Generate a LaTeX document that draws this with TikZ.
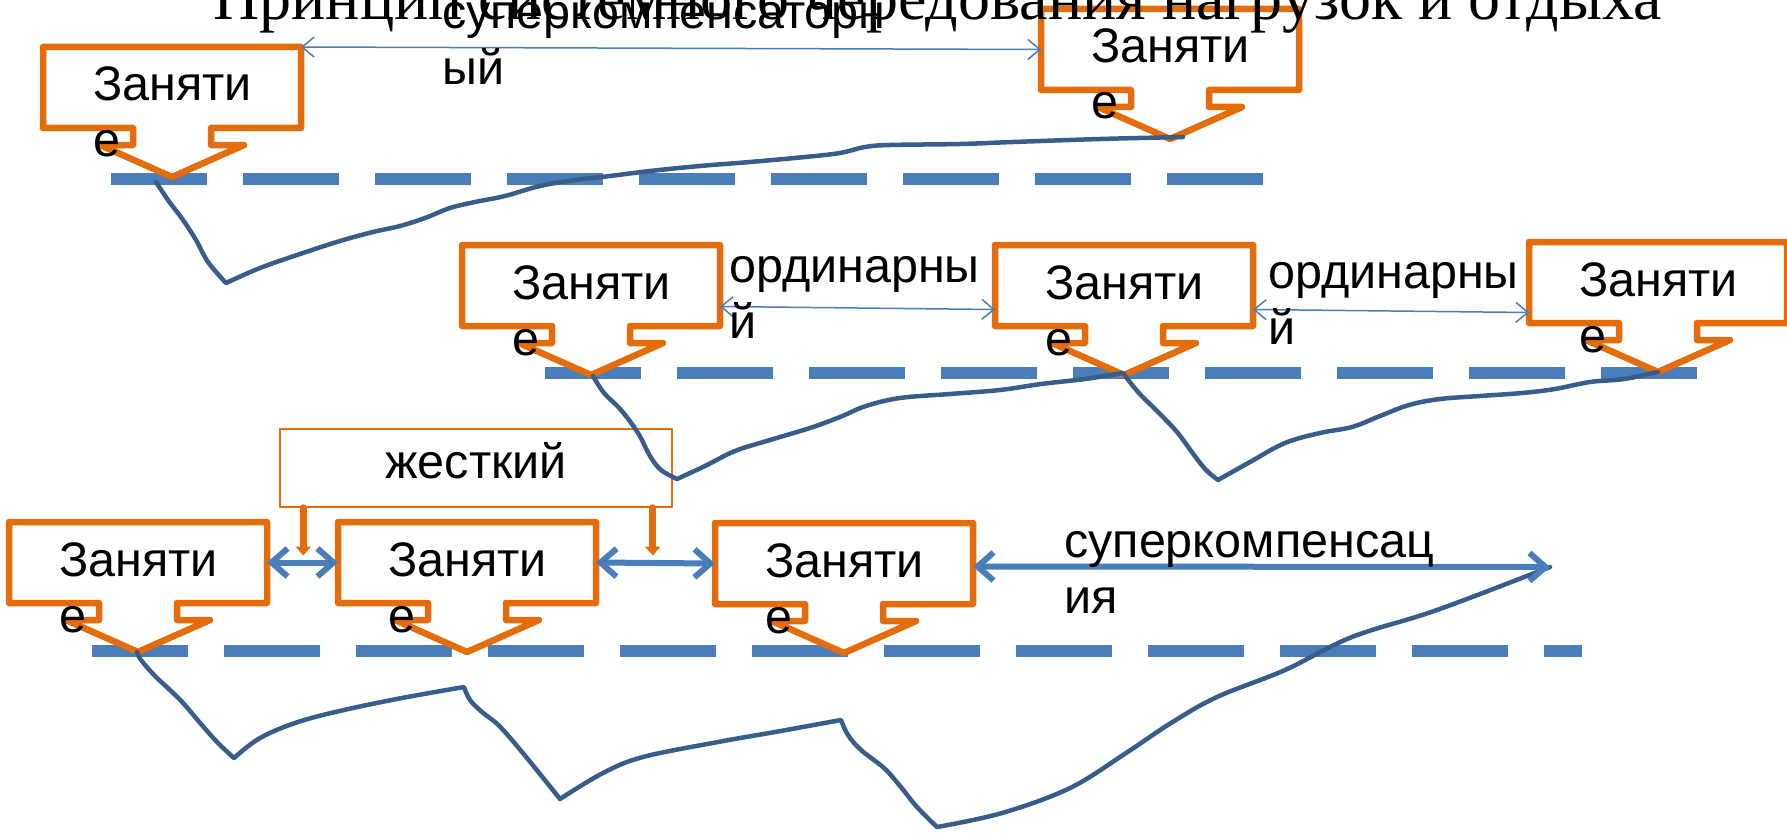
\documentclass[tikz,border=0pt]{standalone}
\usepackage{fontspec}
\setmainfont{Liberation Sans}
\newfontfamily\titlefont{Liberation Serif}
\usetikzlibrary{arrows.meta,calc}
\definecolor{lessonorange}{HTML}{E46C0A}
\definecolor{levelblue}{HTML}{4A7EBB}
\definecolor{curveblue}{HTML}{385D8A}

\begin{document}
\begin{tikzpicture}[x=1pt,y=-1pt,line join=round,
        lesson/.style={rectangle,minimum width=258pt,minimum height=81pt,inner sep=0pt,outer sep=0pt},
        lessonframe/.style={draw=lessonorange,fill=white,line width=6.5pt},
        wraptext/.style={anchor=base west,inner sep=0pt,font=\fontsize{48.5}{56}\selectfont},
        restlevel/.style={draw=levelblue,line width=12pt,dash pattern=on 96pt off 36pt},
        recovery/.style={draw=curveblue,line width=4.5pt,line cap=round},
        thinarrow/.style={draw=levelblue,line width=1.5pt,arrows={Straight Barb[length=12pt,width=20pt]-Straight Barb[length=12pt,width=20pt]}},
        thickarrow/.style={draw=levelblue,line width=6pt,arrows={Straight Barb[length=16pt,width=28pt]-Straight Barb[length=16pt,width=28pt]}},
        hardarrow/.style={draw=lessonorange,line width=7pt,line cap=round,arrows={-Triangle[length=9pt,width=15pt]}},
        hardbox/.style={draw=lessonorange,line width=1.5pt,minimum width=392pt,minimum height=78pt,inner sep=0pt,text height=30pt,text depth=10pt,font=\fontsize{48.5}{56}\selectfont}]
    \useasboundingbox (0,0) rectangle (1787,832);

    \draw[restlevel] (111,179) -- (1263,179);
    \draw[restlevel] (545,373) -- (1697,373);
    \draw[restlevel] (92,651) -- (1582,651);

    \node[lesson,anchor=north west] (l1) at (43,47) {};
    \node[lesson,anchor=north west] (l2) at (1041,9) {};
    \node[lesson,anchor=north west] (l3) at (462,245) {};
    \node[lesson,anchor=north west] (l4) at (995,245) {};
    \node[lesson,anchor=north west] (l5) at (1529,242) {};
    \node[lesson,anchor=north west] (l6) at (9,522) {};
    \node[lesson,anchor=north west] (l7) at (338,522) {};
    \node[lesson,anchor=north west] (l8) at (715,523) {};
    \foreach \n in {l1,l2,l3,l4,l5,l6,l7,l8}
        \draw[lessonframe] (\n.north west) -- (\n.north east) -- (\n.south east)
            -- ($(\n.south)+(39,0)$) -- ++(0,17) -- ++(33,0) -- ($(\n.south)+(0,49)$)
            -- ($(\n.south)+(-72,17)$) -- ++(33,0) -- ($(\n.south)+(-39,0)$)
            -- (\n.south west) -- cycle;

    \node[hardbox] (jk) at (476,468) {жесткий};

    \draw[recovery] plot[smooth,tension=.6] coordinates {(156,182) (168,200) (183,220) (196,240) (208,262) (226,283)}
        -- plot[smooth,tension=.6] coordinates {(226,283) (260,268) (300,254) (340,241) (373,232) (400,226) (425,218) (450,208) (475,202) (505,196) (540,186) (575,180) (610,176) (650,171) (700,166) (750,162) (805,157) (840,153) (865,147) (890,145) (960,144) (1013,142) (1100,139) (1183,137)};
    \draw[recovery] plot[smooth,tension=.6] coordinates {(593,376) (604,393) (621,410) (638,433) (650,456) (661,470) (677,479)}
        -- plot[smooth,tension=.6] coordinates {(677,479) (705,466) (735,451) (770,440) (810,428) (840,417) (866,406) (900,398) (950,394) (1000,390) (1041,384) (1085,379) (1123,373)}
        -- plot[smooth,tension=.6] coordinates {(1123,373) (1138,392) (1158,412) (1177,432) (1194,455) (1206,470) (1218,480)}
        -- plot[smooth,tension=.6] coordinates {(1218,480) (1250,462) (1285,443) (1320,433) (1352,427) (1380,416) (1409,405) (1440,399) (1480,396) (1522,393) (1555,389) (1590,382) (1624,379) (1658,372)};
    \coordinate (scend) at (1550,567);
    \draw[recovery] plot[smooth,tension=.6] coordinates {(137,652) (141,660) (155,676) (170,690) (184,704) (201,724) (218,743) (234,758)}
        -- plot[smooth,tension=.6] coordinates {(234,758) (260,738) (298,722) (344,710) (402,698) (464,687)}
        -- plot[smooth,tension=.6] coordinates {(464,687) (470,700) (482,712) (495,722) (505,732) (522,752) (540,774) (560,799)}
        -- plot[smooth,tension=.6] coordinates {(560,799) (603,773) (643,757) (718,742) (775,732) (841,720)}
        -- plot[smooth,tension=.6] coordinates {(841,720) (848,735) (861,750) (884,768) (900,786) (917,807) (937,827)}
        -- plot[smooth,tension=.6] coordinates {(937,827) (1002,813) (1070,788) (1126,753) (1171,723) (1217,697) (1285,670) (1352,637) (1437,610) (1550,567)};

    \draw[thinarrow] (l1.north east) -- (l2.west);
    \draw[thinarrow] ($(l3.east)+(0,21)$) -- ($(l4.west)+(0,24)$);
    \draw[thinarrow] ($(l4.east)+(0,24)$) -- ($(l5.west)+(0,30)$);
    \draw[thickarrow] (l6.east) -- (l7.west);
    \draw[thickarrow] (l7.east) -- (l8.west);
    \draw[thickarrow] ($(l8.east)+(0,3)$) -- (scend);
    \coordinate (h1) at ($(jk.south west)+(24,0)$);
    \coordinate (h2) at ($(jk.south east)+(-20,0)$);
    \draw[hardarrow,shorten >=7pt] (h1) -- (h1 |- l6.east);
    \draw[hardarrow,shorten >=7pt] (h2) -- (h2 |- l7.east);

    \foreach \n in {l1,l2,l3,l4,l5,l6,l7,l8}
        \node[wraptext] (\n t) at ($(\n.north west)+(50,54)$) {\parbox[t]{200pt}{Заняти\\е}};
    \node[wraptext] (sk1) at (442,29) {\parbox[t]{500pt}{суперкомпенсаторн\\ый}};
    \node[wraptext] (or1) at (729,282) {\parbox[t]{300pt}{ординарны\\й}};
    \node[wraptext] (or2) at (1268,288) {\parbox[t]{300pt}{ординарны\\й}};
    \node[wraptext] (sk2) at (1064,557) {\parbox[t]{400pt}{суперкомпенсац\\ия}};

    \node[anchor=base east,inner sep=0pt,font=\titlefont\fontsize{64}{74}\selectfont] (title) at (1662,20) {Принцип системного чередования нагрузок и отдыха};
\end{tikzpicture}
\end{document}
